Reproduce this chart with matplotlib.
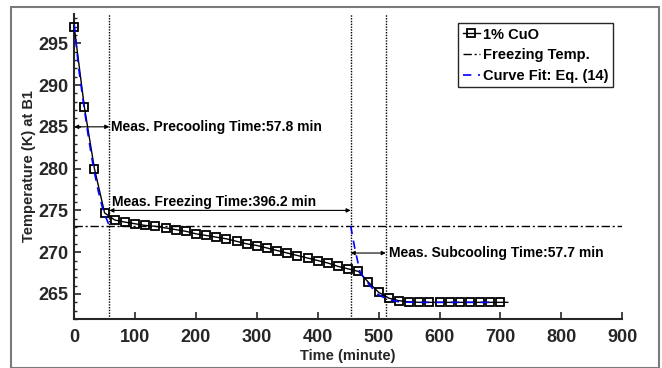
import matplotlib
matplotlib.use("Agg")
import matplotlib.pyplot as plt
from matplotlib.patches import Rectangle
from matplotlib.ticker import MultipleLocator

plt.rcParams['font.family'] = ['Liberation Sans', 'DejaVu Sans']
plt.rcParams['font.weight'] = 'bold'

# measured data (markers every 1000 s)
time_min = [0, 16.7, 33.3, 50, 66.7, 83.3, 100, 116.7, 133.3, 150, 166.7, 183.3,
            200, 216.7, 233.3, 250, 266.7, 283.3, 300, 316.7, 333.3, 350, 366.7,
            383.3, 400, 416.7, 433.3, 450, 466.7, 483.3, 500, 516.7, 533.3, 550,
            566.7, 583.3, 600, 616.7, 633.3, 650, 666.7, 683.3, 700, 712]
temp_K = [297.0, 287.4, 280.0, 274.7, 273.85, 273.6, 273.4, 273.2, 273.1, 272.9,
          272.7, 272.5, 272.2, 272.0, 271.8, 271.6, 271.3, 271.0, 270.8, 270.5,
          270.2, 269.9, 269.6, 269.3, 269.0, 268.7, 268.3, 268.0, 267.7, 266.4,
          265.2, 264.5, 264.2, 264.05, 264.0, 264.0, 264.0, 264.0, 264.0, 264.0,
          264.0, 264.0, 264.0, 264.0]

# curve fit, Eq. (14)
fit1_t = [0, 4, 8, 16, 24, 32, 40, 48, 57.8]
fit1_T = [297.3, 294.4, 291.7, 287.5, 283.5, 280.0, 277.2, 274.9, 273.15]
fit2_t = [454.0, 461, 469.5, 478, 486, 497, 505, 513, 524, 535, 560, 600, 650, 688]
fit2_T = [273.15, 270.4, 267.6, 266.7, 266.0, 265.05, 264.7, 264.45, 264.2, 264.05,
          264.0, 264.0, 264.0, 264.0]

freezing_T = 273.15
precool_end = 57.8
freezing_dur = 396.2
subcool_dur = 57.7

fig = plt.figure(figsize=(6.62, 3.68), dpi=100)
ax = fig.add_axes([0.112, 0.133, 0.828, 0.829])

fig.add_artist(Rectangle((11/662, 0), 648/662, 361/368, transform=fig.transFigure,
                         fill=False, edgecolor='#7a7a7a', linewidth=1.5))

n_mark = len(time_min) - 1
ax.plot(time_min, temp_K, color='black', lw=1.0, marker='s', markersize=5.5,
        markerfacecolor='none', markeredgewidth=1.3, markevery=list(range(n_mark)),
        label='1% CuO', zorder=3, clip_on=False)
ax.axhline(freezing_T, color='black', lw=1.0, ls=(0, (6, 2, 1.5, 2)),
           label='Freezing Temp.', zorder=2)
ax.plot(fit1_t, fit1_T, color='blue', lw=1.2, ls=(0, (5, 4)), zorder=4,
        label='Curve Fit: Eq. (14)')
ax.plot(fit2_t, fit2_T, color='blue', lw=1.2, ls=(0, (5, 4)), zorder=4)

t_freeze_end = precool_end + freezing_dur
t_sub_end = t_freeze_end + subcool_dur
for xv in [precool_end, t_freeze_end, t_sub_end]:
    ax.axvline(xv, color='black', lw=1.0, ls=(0, (1, 1)), zorder=1)

arrow_kw = dict(arrowstyle='<|-|>', color='black', lw=0.8, mutation_scale=6,
                shrinkA=0, shrinkB=0)
ax.annotate('', xy=(precool_end, 285), xytext=(0, 285), arrowprops=arrow_kw)
ax.text(precool_end + 3, 285, 'Meas. Precooling Time:57.8 min', fontsize=10,
        fontweight='bold', va='center', ha='left')
ax.annotate('', xy=(t_freeze_end, 275), xytext=(precool_end, 275), arrowprops=arrow_kw)
ax.text(precool_end + 5, 276.0, 'Meas. Freezing Time:396.2 min', fontsize=10,
        fontweight='bold', va='center', ha='left')
ax.annotate('', xy=(t_sub_end, 269.9), xytext=(t_freeze_end, 269.9), arrowprops=arrow_kw)
ax.text(t_sub_end + 5, 269.9, 'Meas. Subcooling Time:57.7 min', fontsize=10,
        fontweight='bold', va='center', ha='left')

ax.set_xlim(0, 900)
ax.set_ylim(262, 298.5)
ax.xaxis.set_major_locator(MultipleLocator(100))
ax.yaxis.set_major_locator(MultipleLocator(5))
ax.yaxis.set_minor_locator(MultipleLocator(1))
ax.tick_params(axis='both', which='major', direction='in', length=5, width=1.2,
               labelsize=13, colors='#262626')
ax.tick_params(axis='x', which='major', pad=7)
ax.tick_params(axis='y', which='major', pad=4)
ax.tick_params(axis='y', which='minor', direction='in', length=2.5, width=1.0,
               colors='#262626')
for lab in ax.get_xticklabels() + ax.get_yticklabels():
    lab.set_fontweight('bold')

for s in ['top', 'right']:
    ax.spines[s].set_visible(False)
for s in ['left', 'bottom']:
    ax.spines[s].set_linewidth(1.5)
    ax.spines[s].set_color('#262626')

ax.set_xlabel('Time (minute)', fontsize=10.5, fontweight='bold', color='#262626', labelpad=2)
ax.set_ylabel('Temperature (K) at B1', fontsize=10.5, fontweight='bold', color='#262626',
              labelpad=2)

leg = ax.legend(loc='upper right', bbox_to_anchor=(0.983, 0.97), fontsize=10.5,
                handlelength=1.2, handletextpad=0.2, borderpad=0.3, labelspacing=0.45,
                borderaxespad=0, fancybox=False, framealpha=1)
leg.get_frame().set_edgecolor('#262626')
leg.get_frame().set_linewidth(1.0)
for t in leg.get_texts():
    t.set_fontweight('bold')

fig.savefig('out.png', dpi=100)
